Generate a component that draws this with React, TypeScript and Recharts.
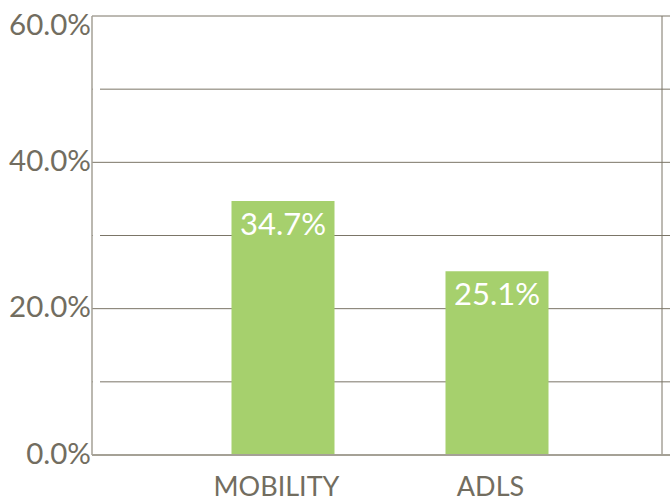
import React from "react";
import { BarChart, Bar, XAxis, YAxis, CartesianGrid, LabelList } from "recharts";

const categories = ["MOBILITY", "ADLS"];
const values = [34.7, 25.1];
const yTicks = [0, 10, 20, 30, 40, 50, 60];
const labeledTicks = [0, 20, 40, 60];

const data = categories.map((c, i) => ({ name: c, value: values[i] }));

const TEXT = "#726d60";
const GRID = "#7b7567";
const AXIS = "#a5a196";
const BAR = "#a6d06d";
const FONT = "Lato, 'Open Sans', sans-serif";

const YTick = (props: any) => {
  const { x, y, payload } = props;
  const v = payload.value;
  if (labeledTicks.includes(v)) {
    const ty = v === 60 ? y + 8 : y - 2;
    return (
      <text x={x - 1} y={ty} dy="0.36em" textAnchor="end" fill={TEXT} fontSize={29.5} fontFamily={FONT}>
        {v.toFixed(1) + "%"}
      </text>
    );
  }
  return <line x1={x + 1} x2={x + 8} y1={y} y2={y} stroke="#ffffff" strokeWidth={3} />;
};

const XTick = (props: any) => {
  const { x, y, payload } = props;
  return (
    <text x={x - 6} y={y} dy="0.71em" textAnchor="middle" fill={TEXT} fontSize={27} fontFamily={FONT}>
      {payload.value}
    </text>
  );
};

export default function App() {
  return (
    <div style={{ position: "absolute", left: 0, top: 0, background: "#fff" }}>
      <BarChart
        width={670}
        height={503}
        data={data}
        margin={{ top: 16, right: 0, bottom: 0, left: 0 }}
      >
        <CartesianGrid
          stroke={GRID}
          strokeWidth={1}
          horizontal={true}
          vertical={true}
          verticalPoints={[662]}
        />
        <YAxis
          width={92}
          domain={[0, 60]}
          ticks={yTicks}
          interval={0}
          axisLine={{ stroke: AXIS, strokeWidth: 1.5 }}
          tickLine={false}
          tickSize={0}
          tickMargin={0}
          tick={<YTick />}
        />
        <XAxis
          dataKey="name"
          height={48}
          padding={{ left: 83.5, right: 66.5 }}
          axisLine={{ stroke: AXIS, strokeWidth: 2 }}
          tickLine={false}
          tickSize={0}
          tickMargin={22}
          tick={<XTick />}
        />
        <Bar dataKey="value" fill={BAR} barSize={103} isAnimationActive={false}>
          <LabelList
            dataKey="value"
            position="insideTop"
            offset={12}
            formatter={(v: any) => Number(v).toFixed(1) + "%"}
            fill="#ffffff"
            fontSize={31}
            fontFamily={FONT}
          />
        </Bar>
      </BarChart>
    </div>
  );
}
